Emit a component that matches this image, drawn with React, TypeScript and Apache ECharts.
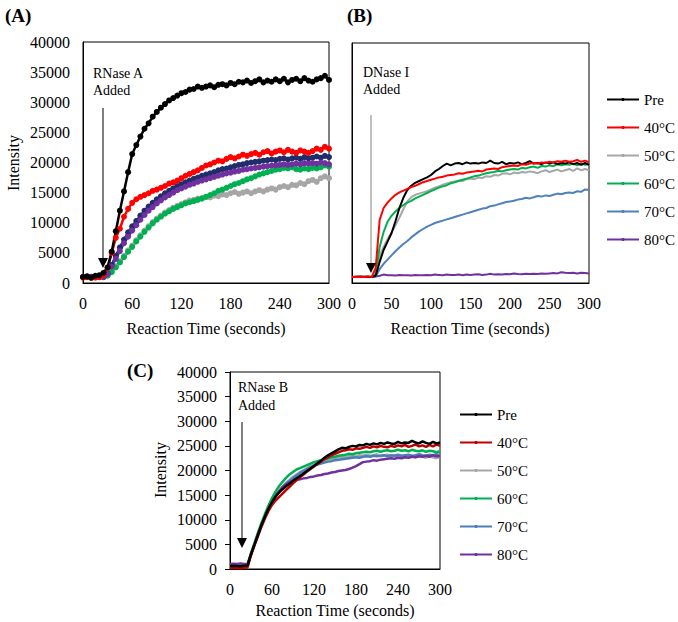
import React, { useEffect, useRef } from "react";
import * as echarts from "echarts";

// time (seconds)
const T = [0,5,10,15,20,25,30,35,40,45,50,55,60,65,70,75,80,85,90,95,100,105,110,115,120,125,130,135,140,145,150,155,160,165,170,175,180,185,190,195,200,205,210,215,220,225,230,235,240,245,250,255,260,265,270,275,280,285,290,295,300];

// Panel A (RNase A)
const aPre = [1000,1100,900,1200,1300,1700,2600,5200,8600,12000,15200,18400,21400,22900,24300,25600,26500,27600,28400,29100,29700,30300,30700,31100,31500,31700,32100,32200,32600,32400,32600,32800,32500,32900,33000,32800,33200,33000,33400,33300,33600,33200,33500,33800,33300,33600,33400,33800,33500,33900,33300,33700,33900,33500,34000,33600,33400,33800,34000,34400,33700];
const a40 = [900,950,850,900,1000,1300,2500,5000,7500,9000,11000,12300,13300,13900,14300,14600,14900,15300,15500,15800,16100,16500,16700,17000,17400,17800,18100,18400,18700,19100,19500,19700,20000,20300,20200,20600,20900,20700,21000,21300,21100,21400,21600,21300,21700,21900,21500,21800,22000,21700,22100,21800,21600,22000,21800,21600,21900,22300,22100,22600,22300];
const a50 = [1000,1000,950,1000,1050,1100,1300,2000,2800,3600,4500,5400,6200,7100,7900,8700,9400,10100,10700,11200,11700,12100,12500,12800,13100,13400,13700,13800,14000,14100,14300,14200,14500,14400,14700,14600,14900,15100,14800,15000,15200,14900,15200,15400,15200,15500,15700,15500,15900,16100,15900,16300,16200,16600,16400,16900,17100,16800,17400,17700,17400];
const a60 = [1000,1050,1000,950,1000,1000,1200,1800,2600,3400,4300,5200,6000,6900,7700,8500,9200,9900,10500,11000,11500,11900,12300,12600,12900,13200,13400,13600,13800,14000,14300,14600,14900,15300,15500,15800,16100,16400,16600,16900,17200,17400,17700,18000,18200,18400,18600,18800,18900,19100,19000,19200,18900,18800,19000,18900,19100,19000,19200,19500,19300];
const a70 = [1000,1050,1000,1000,950,1000,1600,3000,4500,5900,7200,8400,9400,10300,11200,12000,12700,13300,13900,14400,14900,15300,15700,16100,16400,16700,17000,17300,17500,17800,18000,18200,18400,18700,18900,19000,19200,19400,19600,19700,19900,20000,20100,20200,20300,20400,20500,20400,20600,20700,20500,20700,20800,20600,20900,20700,20800,21000,20800,21100,20900];
const a80 = [1000,1000,1050,1000,1000,950,1500,2700,4000,5300,6600,7700,8700,9600,10500,11300,12000,12600,13200,13700,14200,14600,15000,15400,15700,16000,16300,16500,16800,17000,17200,17400,17600,17800,18000,18200,18300,18500,18600,18800,18900,19000,19100,19200,19300,19400,19500,19500,19600,19700,19600,19700,19800,19700,19900,19800,19900,19800,20000,19900,19700];

// Panel B (DNase I)
const bPre = [1000,1000,1100,1000,1050,1000,1200,3500,5500,6900,8300,10300,12500,14200,15500,16200,16700,17000,17300,17600,18000,18600,19000,19500,19900,19600,19900,20000,19800,20100,19900,20000,19900,20100,20000,20400,20000,19900,20200,19800,20000,19900,20100,19800,20000,20300,19900,20000,19800,20100,19900,20100,19800,20000,19900,20100,19800,20000,19700,20000,19700];
const b40 = [1000,1050,1000,1000,1100,1000,2500,10500,12500,13400,14100,14700,15100,15400,15700,16000,16200,16500,16800,17000,17200,17400,17600,17700,17900,18000,18100,18300,18200,18400,18500,18600,18700,18600,18900,19000,19100,19000,19300,19400,19500,19600,19500,19800,19700,19900,20000,19900,20100,20000,20200,20100,20300,20200,20400,20200,20300,20500,20200,20400,20100];
const b50 = [1000,1000,1050,1000,1000,1050,1300,4500,6000,7300,8400,9600,10900,12300,13600,14300,14700,14900,15100,15300,15600,15900,16100,16400,16600,16800,16900,17100,17000,17300,17400,17300,17600,17500,17800,17700,18000,17900,18200,18300,18100,18400,18300,18500,18400,18600,18500,18300,18600,18800,18500,18700,18900,18600,18800,19000,18700,19100,18800,19000,18800];
const b60 = [1000,1050,1000,1000,1050,1000,1500,6000,8500,10200,11200,11900,12500,13000,13400,13700,14100,14400,14700,15000,15300,15600,15900,16100,16300,16600,16800,17000,17200,17400,17600,17800,17900,18100,18300,18400,18500,18700,18600,18800,18900,19000,18900,19200,19100,19300,19400,19200,19500,19400,19600,19500,19800,19600,19800,19700,19900,19600,19900,19700,19800];
const b70 = [1000,1000,1050,1000,1000,1000,1100,2300,3200,3900,4600,5300,5900,6500,7000,7600,8100,8600,9000,9400,9700,10000,10200,10400,10600,10800,11000,11200,11400,11600,11800,12000,12200,12400,12500,12800,12900,13100,13300,13500,13600,13700,13900,14000,14200,14100,14300,14500,14400,14600,14500,14700,14900,14800,15000,15100,15000,15300,15200,15600,15500];
const b80 = [1000,1050,1000,1100,1000,1050,1100,1200,1400,1300,1300,1250,1350,1300,1300,1250,1350,1300,1300,1350,1300,1400,1350,1300,1400,1350,1350,1400,1300,1400,1350,1400,1450,1350,1400,1550,1400,1450,1400,1500,1450,1600,1500,1450,1550,1500,1550,1500,1600,1550,1600,1650,1600,1800,1700,1650,1700,1600,1700,1650,1600];

// Panel C (RNase B)
const cPre = [600,650,600,550,650,700,3000,5000,7000,9000,10700,12300,13600,14700,15500,16200,16800,17300,17900,18400,18900,19400,19900,20400,20900,21500,22000,22600,23100,23500,23900,24300,24600,24500,24800,25000,24900,25200,25100,25400,25200,25500,25300,25600,25400,25700,25500,25400,25800,25500,25700,25600,26000,25700,25500,25900,25600,25400,25800,25500,25700];
const c40 = [200,250,200,150,250,300,2800,4800,6700,8600,10300,11800,13000,13900,14600,15300,16000,16700,17400,18000,18600,19200,19800,20300,20800,21300,21800,22300,22700,23100,23400,23700,24000,24100,24300,24200,24500,24400,24600,24800,24600,24900,24700,25000,24800,24700,25000,24800,25100,24900,25200,24800,25000,25300,24900,25100,24800,25200,24900,25300,25000];
const c50 = [600,600,650,600,550,650,2900,4900,6900,8800,10500,12100,13400,14600,15700,16700,17500,18100,18700,19200,19700,20100,20500,20900,21200,21500,21800,22000,22200,22400,22500,22700,22800,22700,22900,23000,22800,23100,23000,23200,23000,23100,23300,22900,23100,23200,22900,23100,22800,23000,22700,23000,22900,22700,23000,22800,22600,22900,22700,22500,22800];
const c60 = [650,600,600,650,600,600,3200,5300,7400,9400,11200,12900,14400,15700,16800,17700,18500,19200,19700,20200,20500,20800,21100,21400,21700,21900,22100,22300,22500,22700,22800,23000,23100,23200,23400,23300,23500,23600,23700,23800,23700,23900,24000,23800,24000,24100,23900,24000,24200,24000,24100,23900,24200,24000,23900,24100,23800,24000,23900,23700,23900];
const c70 = [600,650,600,600,650,600,3000,5000,7000,8900,10600,12200,13500,14700,15700,16600,17300,17900,18500,19000,19500,19900,20300,20700,21000,21200,21400,21600,21800,21900,22100,22200,22300,22400,22500,22600,22700,22600,22800,22900,22800,23000,22900,23000,23100,22900,23100,23000,23200,23000,23100,23200,23000,23100,23300,23100,23000,23200,23100,23300,23100];
const c80 = [1000,1050,1000,1100,1000,1050,3100,5100,7100,9000,10800,12400,13700,14900,15800,16600,17200,17600,17900,18100,18200,18400,18500,18700,18800,19000,19100,19300,19400,19600,19700,19900,20000,20100,20300,20600,20900,21300,21700,21800,21900,22100,22000,22200,22300,22400,22500,22400,22600,22500,22700,22600,22800,22700,22900,22800,23000,22800,23100,22900,22900];

const LEGEND_LABELS = ["Pre", "40°C", "50°C", "60°C", "70°C", "80°C"];

const FONT = "Liberation Serif";
const BLACK = "#000000";
const GRAY = "#a6a6a6";
const GREEN = "#00b050";
const PURPLE = "#7030a0";

function pairs(vals: number[]) {
  return T.map((t, i) => [t, vals[i]]);
}

function aSeries(name: string, vals: number[], color: string, size: number) {
  return {
    type: "line", name, xAxisIndex: 0, yAxisIndex: 0, data: pairs(vals),
    symbol: "circle", symbolSize: size, showSymbol: true,
    lineStyle: { color, width: 2.5 }, itemStyle: { color },
  };
}
function lineSeries(name: string, idx: number, vals: number[], color: string, width: number) {
  return {
    type: "line", name, xAxisIndex: idx, yAxisIndex: idx, data: pairs(vals),
    symbol: "circle", symbolSize: 3, showSymbol: false,
    lineStyle: { color, width }, itemStyle: { color },
  };
}

const plain = (v: number) => String(v);

function xAxis(gridIndex: number, interval: number) {
  return {
    type: "value", gridIndex, min: 0, max: 300, interval,
    axisLine: { show: true, onZero: false, lineStyle: { color: "#000", width: 1 } },
    axisTick: { show: false }, splitLine: { show: false },
    axisLabel: { color: "#000", fontFamily: FONT, fontSize: 16, margin: 12, formatter: plain, showMinLabel: true, showMaxLabel: true },
  };
}
function yAxis(gridIndex: number, showLabels: boolean, ticks: boolean) {
  return {
    type: "value", gridIndex, min: 0, max: 40000, interval: 5000,
    axisLine: { show: true, onZero: false, lineStyle: { color: "#000", width: 1 } },
    axisTick: { show: ticks, length: 5, lineStyle: { color: "#000" } }, splitLine: { show: false },
    axisLabel: { show: showLabels, color: "#000", fontFamily: FONT, fontSize: 16, margin: 13, formatter: plain, showMinLabel: true, showMaxLabel: true },
  };
}

function txt(x: number, y: number, text: string, size: number, opts: any = {}) {
  return {
    type: "text", x, y, z: 100, rotation: opts.rotation || 0,
    style: {
      text, fontFamily: FONT, fontSize: size, fontWeight: opts.bold ? "bold" : "normal",
      fill: "#000", align: opts.align || "left", verticalAlign: "middle",
    },
  };
}
function arrow(x: number, y1: number, y2: number, lineColor: string) {
  return [
    { type: "line", z: 100, shape: { x1: x, y1, x2: x, y2: y2 - 6 }, style: { stroke: lineColor, lineWidth: 1 } },
    { type: "polygon", z: 101, shape: { points: [[x - 5, y2 - 10], [x + 5, y2 - 10], [x, y2]] }, style: { fill: "#000" } },
  ];
}

export default function App() {
  const ref = useRef<HTMLDivElement>(null);
  useEffect(() => {
    const chart = echarts.init(ref.current!, null, { renderer: "svg" });
    const legendCommon = {
      orient: "vertical", itemWidth: 32, itemHeight: 4, itemGap: 13, selectedMode: false,
      textStyle: { fontFamily: FONT, fontSize: 15, color: "#000" },
      formatter: (n: string) => n.split("|")[1],
    };
    const option: any = {
      animation: false,
      backgroundColor: "#ffffff",
      textStyle: { fontFamily: FONT },
      grid: [
        { left: 83, top: 42, width: 246, height: 241, show: true, borderColor: "#000", borderWidth: 1 },
        { left: 352, top: 43, width: 237, height: 240, show: true, borderColor: "#000", borderWidth: 1 },
        { left: 230, top: 372, width: 210, height: 197, show: true, borderColor: "#000", borderWidth: 1 },
      ],
      xAxis: [xAxis(0, 60), xAxis(1, 50), xAxis(2, 60)],
      yAxis: [yAxis(0, true, false), yAxis(1, false, false), yAxis(2, true, true)],
      legend: [
        { ...legendCommon, left: 601, top: 87, data: LEGEND_LABELS.map((l) => "B|" + l) },
        { ...legendCommon, left: 454, top: 402, data: LEGEND_LABELS.map((l) => "C|" + l) },
      ],
      series: [
        aSeries("A|50°C", a50, GRAY, 6),
        aSeries("A|60°C", a60, GREEN, 6),
        aSeries("A|70°C", a70, "#1f2d6b", 6),
        aSeries("A|80°C", a80, PURPLE, 6),
        aSeries("A|40°C", a40, "#ff0000", 6),
        aSeries("A|Pre", aPre, BLACK, 6),

        lineSeries("B|80°C", 1, b80, PURPLE, 2),
        lineSeries("B|70°C", 1, b70, "#4f81bd", 2),
        lineSeries("B|50°C", 1, b50, GRAY, 2),
        lineSeries("B|60°C", 1, b60, GREEN, 2),
        lineSeries("B|Pre", 1, bPre, BLACK, 2),
        lineSeries("B|40°C", 1, b40, "#ff0000", 2),

        lineSeries("C|50°C", 2, c50, GRAY, 2.5),
        lineSeries("C|70°C", 2, c70, "#4a7ebb", 2.5),
        lineSeries("C|80°C", 2, c80, PURPLE, 2.5),
        lineSeries("C|60°C", 2, c60, GREEN, 2.5),
        lineSeries("C|40°C", 2, c40, "#c00000", 2.5),
        lineSeries("C|Pre", 2, cPre, BLACK, 2.5),
      ],
      graphic: [
        txt(5, 15, "(A)", 19, { bold: true }),
        txt(347, 15, "(B)", 19, { bold: true }),
        txt(127, 370, "(C)", 19, { bold: true }),
        txt(13, 163, "Intensity", 16, { align: "center", rotation: Math.PI / 2 }),
        txt(160, 470, "Intensity", 16, { align: "center", rotation: Math.PI / 2 }),
        txt(206, 328, "Reaction Time (seconds)", 16, { align: "center" }),
        txt(470, 328, "Reaction Time (seconds)", 16, { align: "center" }),
        txt(335, 610, "Reaction Time (seconds)", 16, { align: "center" }),
        txt(93, 73, "RNase A", 14),
        txt(93, 90, "Added", 14),
        txt(363, 72, "DNase I", 14),
        txt(363, 89, "Added", 14),
        txt(238, 387, "RNase B", 14),
        txt(238, 405, "Added", 14),
        ...arrow(103, 108, 268, "#000"),
        ...arrow(371, 115, 273, "#808080"),
        ...arrow(242, 422, 548, "#000"),
      ],
    };
    chart.setOption(option);
    return () => chart.dispose();
  }, []);
  return (
    <div
      ref={ref}
      style={{ position: "absolute", left: 0, top: 0, width: 678, height: 622, background: "#fff" }}
    />
  );
}
